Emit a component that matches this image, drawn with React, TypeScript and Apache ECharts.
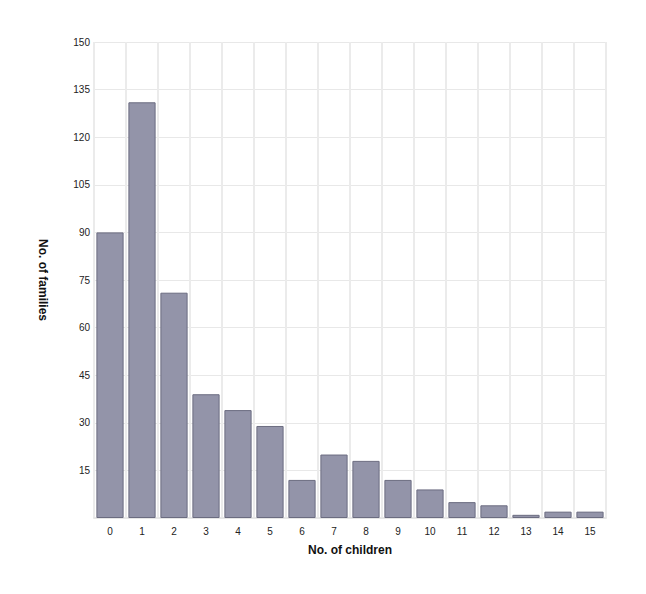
import { useEffect, useRef } from 'react';
import * as echarts from 'echarts';

const children = ['0', '1', '2', '3', '4', '5', '6', '7', '8', '9', '10', '11', '12', '13', '14', '15'];
const families = [90, 131, 71, 39, 34, 29, 12, 20, 18, 12, 9, 5, 4, 1, 2, 2];

const FONT = 'Liberation Sans';

export default function App() {
  const ref = useRef<HTMLDivElement | null>(null);

  useEffect(() => {
    if (!ref.current) return;
    const chart = echarts.init(ref.current, undefined, { renderer: 'svg' });

    chart.setOption({
      animation: false,
      grid: { left: 86, right: 32, top: 34, bottom: 68 },
      xAxis: {
        type: 'category',
        data: children,
        name: 'No. of children',
        nameLocation: 'middle',
        nameGap: 26,
        nameTextStyle: { color: '#111', fontSize: 12, fontWeight: 'bold', fontFamily: FONT },
        axisLine: { lineStyle: { color: '#e6e6e6', width: 2 } },
        axisTick: { show: false },
        axisLabel: { color: '#222', fontSize: 10, fontFamily: FONT, margin: 8 },
        splitLine: { show: true, lineStyle: { color: '#ebebeb', width: 2 } },
      },
      yAxis: {
        type: 'value',
        min: 0,
        max: 150,
        interval: 15,
        name: 'No. of families',
        nameLocation: 'middle',
        nameRotate: -90,
        nameGap: 45,
        nameTextStyle: { color: '#111', fontSize: 12, fontWeight: 'bold', fontFamily: FONT },
        axisLine: { show: false },
        axisTick: { show: false },
        axisLabel: {
          color: '#222',
          fontSize: 10,
          fontFamily: FONT,
          margin: 4,
          padding: [7, 0, 0, 0],
          formatter: (v: number) => (v === 0 ? '' : String(v)),
        },
        splitLine: { lineStyle: { color: '#e8e8e8', width: 1 } },
      },
      series: [
        {
          type: 'bar',
          data: families,
          barCategoryGap: '15%',
          itemStyle: { color: '#9394a9', borderColor: '#6b6c80', borderWidth: 1 },
        },
      ],
    });

    return () => chart.dispose();
  }, []);

  return <div ref={ref} style={{ width: 630, height: 578 }} />;
}
